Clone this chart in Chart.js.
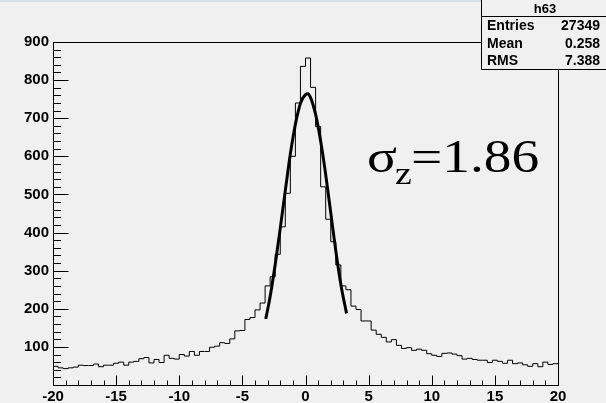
<!DOCTYPE html>
<html>
<head>
<meta charset="utf-8">
<script src="https://cdn.jsdelivr.net/npm/chart.js@4.4.1/dist/chart.umd.min.js"></script>
<style>
  html, body { margin: 0; padding: 0; background: #f0f0f0; }
  canvas { display: block; }
</style>
</head>
<body>
<canvas id="histChart" width="606" height="403"></canvas>
<script>
// histogram h63: 100 bins from -20 to 20
const binLow = -20;
const binWidth = 0.4;
const counts = [
  49, 45, 43, 45, 47, 52, 51, 51, 55, 48,
  52, 52, 57, 60, 52, 60, 62, 69, 72, 58,
  67, 59, 78, 70, 68, 80, 76, 88, 78, 88,
  88, 99, 102, 111, 109, 121, 142, 143, 172, 177,
  197, 215, 260, 284, 343, 415, 503, 600, 740, 836,
  858, 781, 678, 520, 435, 376, 315, 260, 250, 207,
  198, 168, 168, 144, 133, 125, 113, 119, 104, 96,
  98, 91, 94, 91, 82, 78, 75, 83, 84, 81,
  77, 68, 70, 67, 65, 65, 59, 65, 62, 57,
  65, 56, 58, 53, 49, 56, 48, 60, 54, 56
];
// gaussian fit curve
const fitX = [-3.15, -2.8, -2.4, -2.0, -1.6, -1.2, -0.8, -0.4, 0.0, 0.2, 0.4, 0.8, 1.2, 1.6, 2.0, 2.4, 2.8, 3.25];
const fitY = [173, 232, 316, 411, 510, 606, 684, 739, 762, 764, 754, 710, 640, 552, 452, 352, 264, 188];
// stats box
const statLabels = ['Entries', 'Mean', 'RMS'];
const statValues = ['27349', '0.258', '7.388'];

// step points at the left edge of every bin, plus the closing edge
const histPoints = counts.map((c, i) => ({ x: binLow + i * binWidth, y: c }));
histPoints.push({ x: binLow + counts.length * binWidth, y: counts[counts.length - 1] });
const fitPoints = fitX.map((x, i) => ({ x: x, y: fitY[i] }));

Chart.defaults.font.family = "'Liberation Sans', Arial, sans-serif";

// ROOT style frame, inward ticks, stats box and sigma label
const rootDecor = {
  id: 'rootDecor',
  afterDraw(chart) {
    const ctx = chart.ctx;
    const a = chart.chartArea;
    const xs = chart.scales.x, ys = chart.scales.y;
    ctx.save();
    ctx.strokeStyle = '#000';
    ctx.lineWidth = 1;
    const L = Math.round(a.left) + 0.5, R = Math.round(a.right) + 0.5;
    const T = Math.round(a.top) + 0.5, B = Math.round(a.bottom) + 0.5;
    ctx.strokeRect(L, T, R - L, B - T);

    ctx.beginPath();
    for (let v = 0; v <= 900; v += 20) {
      const y = Math.round(ys.getPixelForValue(v)) + 0.5;
      const len = v % 100 === 0 ? 15 : 7.5;
      ctx.moveTo(L, y); ctx.lineTo(L + len, y);
    }
    for (let v = -20; v <= 20; v += 1) {
      const x = Math.round(xs.getPixelForValue(v)) + 0.5;
      const len = v % 5 === 0 ? 10 : 5;
      ctx.moveTo(x, B); ctx.lineTo(x, B - len);
    }
    ctx.stroke();

    // top strip
    ctx.fillStyle = '#d6dfe3';
    ctx.fillRect(0, 0, 606, 2);

    // stats box
    ctx.fillStyle = '#f0f0f0';
    ctx.fillRect(481, 0, 125, 69);
    ctx.beginPath();
    ctx.moveTo(481.5, 0); ctx.lineTo(481.5, 69.5); ctx.lineTo(606, 69.5);
    ctx.moveTo(481.5, 16.5); ctx.lineTo(606, 16.5);
    ctx.stroke();
    ctx.fillStyle = '#000';
    ctx.textBaseline = 'middle';
    ctx.font = "bold 13px 'Liberation Sans', Arial, sans-serif";
    ctx.textAlign = 'center';
    ctx.fillText('h63', 545, 9.5);
    ctx.font = "bold 14px 'Liberation Sans', Arial, sans-serif";
    const rowY = [26, 44, 61];
    statLabels.forEach((lab, i) => {
      ctx.textAlign = 'left';
      ctx.fillText(lab, 487, rowY[i]);
      ctx.textAlign = 'right';
      ctx.fillText(statValues[i], 600, rowY[i]);
    });

    // sigma label
    ctx.textBaseline = 'alphabetic';
    ctx.textAlign = 'left';
    const sx = 1.18;
    const drawStretched = (txt, x, y, size) => {
      ctx.save();
      ctx.font = size + "px 'Liberation Serif', 'Times New Roman', serif";
      ctx.translate(x, y);
      ctx.scale(sx, 1);
      ctx.fillText(txt, 0, 0);
      ctx.restore();
    };
    drawStretched('\u03c3', 367, 172, 47);
    drawStretched('z', 395, 184, 32);
    drawStretched('=1.86', 411, 172, 47);
    ctx.restore();
  }
};

const ctx = document.getElementById('histChart').getContext('2d');
const histChart = new Chart(ctx, {
  type: 'line',
  data: {
    datasets: [
      {
        label: 'h63',
        data: histPoints,
        stepped: true,
        borderColor: '#000',
        borderWidth: 1,
        pointRadius: 0,
        fill: false
      },
      {
        label: 'fit',
        data: fitPoints,
        borderColor: '#000',
        borderWidth: 3,
        pointRadius: 0,
        cubicInterpolationMode: 'monotone',
        fill: false
      }
    ]
  },
  options: {
    responsive: false,
    animation: false,
    layout: { padding: { top: 42, right: 48, left: 0, bottom: 0 } },
    plugins: { legend: { display: false }, tooltip: { enabled: false } },
    scales: {
      x: {
        type: 'linear',
        min: -20,
        max: 20,
        grid: { display: false, drawTicks: false },
        border: { display: false },
        ticks: {
          stepSize: 5,
          padding: 3,
          color: '#000',
          maxRotation: 0,
          font: { size: 15, weight: 'bold' }
        },
        afterFit(scale) { scale.height = 18; }
      },
      y: {
        min: 0,
        max: 900,
        grid: { display: false, drawTicks: false },
        border: { display: false },
        ticks: {
          stepSize: 100,
          padding: 4,
          color: '#000',
          font: { size: 15, weight: 'bold' },
          callback: (v) => (v === 0 ? '' : v)
        },
        afterFit(scale) { scale.width = 53; }
      }
    }
  },
  plugins: [rootDecor]
});
</script>
</body>
</html>
